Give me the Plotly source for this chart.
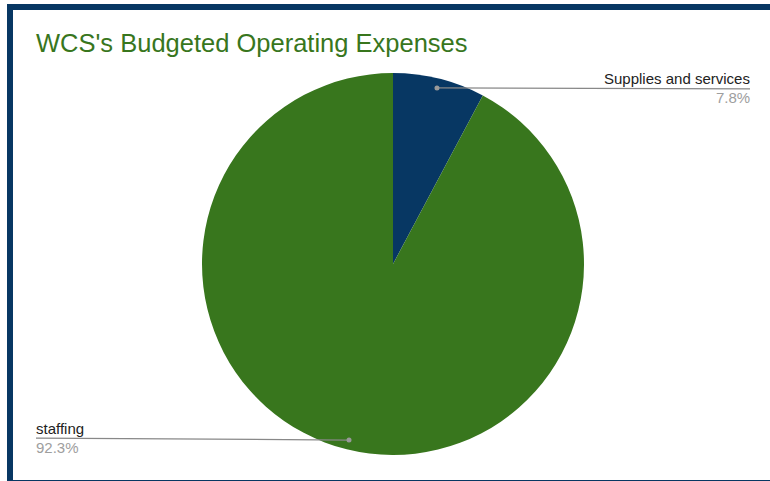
import math
import plotly.graph_objects as go

labels = ["Supplies and services", "staffing"]
values = [7.8, 92.3]
colors = ["#073763", "#38761d"]
title_text = "WCS's Budgeted Operating Expenses"

W, H = 770, 481
CX, CY, R = 393, 264, 191


def px(x):
    return x / W


def py(y):
    return 1 - y / H


fig = go.Figure(
    go.Pie(
        labels=labels,
        values=values,
        marker=dict(colors=colors, line=dict(width=0)),
        sort=False,
        direction="clockwise",
        rotation=0,
        textinfo="none",
        hoverinfo="label+percent",
        showlegend=False,
        domain=dict(x=[px(CX - R), px(CX + R)], y=[py(CY + R), py(CY - R)]),
    )
)

shapes = []
annotations = []

# frame border
shapes.append(dict(type="rect", xref="paper", yref="paper",
                   x0=px(10), x1=px(790), y0=py(483), y1=py(7),
                   line=dict(color="#073763", width=6), fillcolor="rgba(0,0,0,0)", layer="above"))

total = sum(values)
label_x = [750, 36]
anchors = ["right", "left"]
xshifts = [2, -2]
end_offsets = [1, -2]
cum = 0
for i, (lab, v) in enumerate(zip(labels, values)):
    mid = (cum + v / 2) / total * 2 * math.pi
    cum += v
    dx = math.sin(mid) * R * 0.95
    dy = -math.cos(mid) * R * 0.95
    dotx, doty = CX + dx, CY + dy
    ly = doty + end_offsets[i]
    shapes.append(dict(type="line", xref="paper", yref="paper",
                       x0=px(dotx), y0=py(doty), x1=px(label_x[i]), y1=py(ly),
                       line=dict(color="#888888", width=1.2)))
    shapes.append(dict(type="circle", xref="paper", yref="paper",
                       x0=px(dotx - 2.5), x1=px(dotx + 2.5), y0=py(doty + 2.5), y1=py(doty - 2.5),
                       fillcolor="#999999", line=dict(width=0)))
    annotations.append(dict(xref="paper", yref="paper", x=px(label_x[i]), y=py(ly - 10),
                            xanchor=anchors[i], yanchor="middle", showarrow=False, xshift=xshifts[i],
                            text=lab, font=dict(family="Liberation Sans, Arial", size=15, color="#222222")))
    annotations.append(dict(xref="paper", yref="paper", x=px(label_x[i]), y=py(ly + 9),
                            xanchor=anchors[i], yanchor="middle", showarrow=False, xshift=xshifts[i],
                            text=f"{v}%",
                            font=dict(family="Liberation Sans, Arial", size=15, color="#9e9e9e")))

fig.update_layout(
    width=W, height=H,
    margin=dict(l=0, r=0, t=0, b=0),
    paper_bgcolor="white", plot_bgcolor="white",
    title=dict(text=title_text, x=px(36), xanchor="left", y=py(43), yanchor="middle",
               font=dict(family="Liberation Sans, Arial", size=25.5, color="#38761d")),
    shapes=shapes, annotations=annotations,
)

fig.write_html("out.html", config={"displayModeBar": False},
               post_script="document.body.style.margin='0';document.body.style.overflow='hidden';")
